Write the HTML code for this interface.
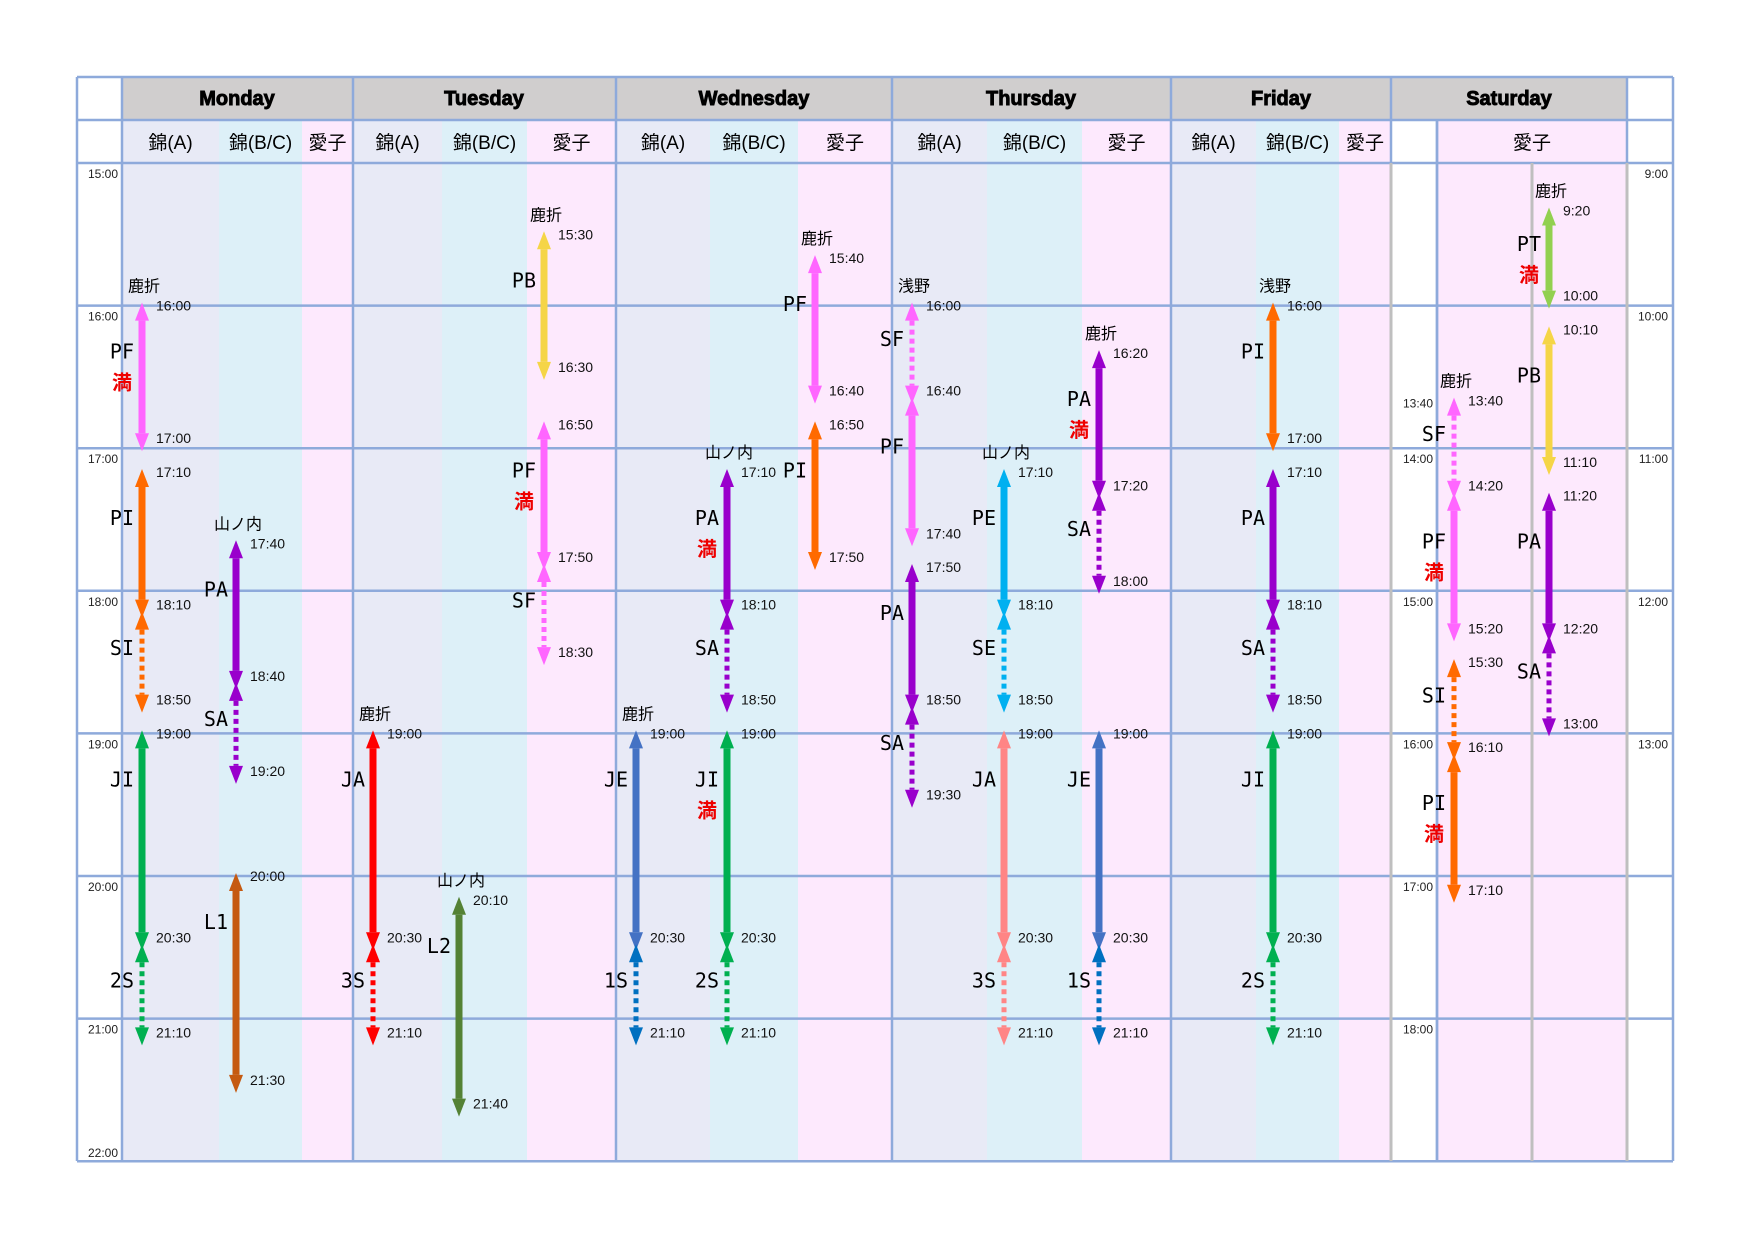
<!DOCTYPE html>
<html><head><meta charset="utf-8">
<style>
html,body{margin:0;padding:0;background:#fff;}
svg{display:block;}
text{font-family:"Liberation Sans","Noto Sans CJK JP",sans-serif;}
.day{font-weight:900;font-size:20px;stroke:#000;stroke-width:0.9px;}
.sub{font-size:19px;}
.ax{font-size:12px;fill:#222;}
.tm{font-size:14px;fill:#111;}
.code{font-family:"DejaVu Sans Mono","Noto Sans CJK JP",monospace;font-size:20px;}
.full{font-size:20px;font-weight:bold;fill:#e00;}
.pl{font-size:16px;}
</style></head>
<body>
<svg id="chart" width="1754" height="1240" viewBox="0 0 1754 1240" xmlns="http://www.w3.org/2000/svg">
<g id="bg"></g><g id="grid"></g><g id="hdr"></g><g id="axis"></g><g id="marks"></g>
</svg>
<script>
// ---- data ----
const days = ["Monday","Tuesday","Wednesday","Thursday","Friday","Saturday"];
const subNames = ["錦(A)","錦(B/C)","愛子"];
const mainTicks = ["15:00","16:00","17:00","18:00","19:00","20:00","21:00","22:00"];
const satLeftTicks = ["13:40","14:00","15:00","16:00","17:00","18:00"];
const satRightTicks = ["9:00","10:00","11:00","12:00","13:00"];
// arrow data: day index, column index, code, color, start, end, dotted, full, place
const arDay   = [0,0,0,0,0,0,0,0, 1,1,1,1,1,1, 2,2,2,2,2,2,2,2, 3,3,3,3,3,3,3,3,3,3,3,3, 4,4,4,4,4, 5,5,5,5, 6,6,6,6];
const arCol   = [0,0,0,1,1,0,0,1, 2,2,2,0,0,1, 2,2,1,1,0,0,1,1, 0,0,0,0,1,1,1,1,2,2,2,2, 1,1,1,1,1, 0,0,0,0, 0,0,0,0];
const arCode  = ["PF","PI","SI","PA","SA","JI","2S","L1", "PB","PF","SF","JA","3S","L2", "PF","PI","PA","SA","JE","1S","JI","2S",
                 "SF","PF","PA","SA","PE","SE","JA","3S","PA","SA","JE","1S", "PI","PA","SA","JI","2S", "SF","PF","SI","PI", "PT","PB","PA","SA"];
const arColor = ["#ff66ff","#ff6a00","#ff6a00","#9900cc","#9900cc","#00b050","#00b050","#c55a11",
                 "#f5d547","#ff66ff","#ff66ff","#ff0000","#ff0000","#548235",
                 "#ff66ff","#ff6a00","#9900cc","#9900cc","#4472c4","#0070c0","#00b050","#00b050",
                 "#ff66ff","#ff66ff","#9900cc","#9900cc","#00b0f0","#00b0f0","#ff8585","#ff8585","#9900cc","#9900cc","#4472c4","#0070c0",
                 "#ff6a00","#9900cc","#9900cc","#00b050","#00b050",
                 "#ff66ff","#ff66ff","#ff6a00","#ff6a00",
                 "#92d050","#f5d547","#9900cc","#9900cc"];
const arStart = ["16:00","17:10","18:10","17:40","18:40","19:00","20:30","20:00", "15:30","16:50","17:50","19:00","20:30","20:10",
                 "15:40","16:50","17:10","18:10","19:00","20:30","19:00","20:30",
                 "16:00","16:40","17:50","18:50","17:10","18:10","19:00","20:30","16:20","17:20","19:00","20:30",
                 "16:00","17:10","18:10","19:00","20:30", "13:40","14:20","15:30","16:10", "9:20","10:10","11:20","12:20"];
const arEnd   = ["17:00","18:10","18:50","18:40","19:20","20:30","21:10","21:30", "16:30","17:50","18:30","20:30","21:10","21:40",
                 "16:40","17:50","18:10","18:50","20:30","21:10","20:30","21:10",
                 "16:40","17:40","18:50","19:30","18:10","18:50","20:30","21:10","17:20","18:00","20:30","21:10",
                 "17:00","18:10","18:50","20:30","21:10", "14:20","15:20","16:10","17:10", "10:00","11:10","12:20","13:00"];
const arDotted= [0,0,1,0,1,0,1,0, 0,0,1,0,1,0, 0,0,0,1,0,1,0,1, 1,0,0,1,0,1,0,1,0,1,0,1, 0,0,1,0,1, 1,0,1,0, 0,0,0,1];
const arFull  = [1,0,0,0,0,0,0,0, 0,1,0,0,0,0, 0,0,1,0,0,0,1,0, 0,0,0,0,0,0,0,0,1,0,0,0, 0,0,0,0,0, 0,1,0,1, 1,0,0,0];
const arPlace = ["鹿折","","","山ノ内","","","","", "鹿折","","","鹿折","","山ノ内", "鹿折","","山ノ内","","鹿折","","","",
                 "浅野","","","","山ノ内","","","","鹿折","","","", "浅野","","","","", "鹿折","","","", "鹿折","","",""];

// ---- layout ----
const NS="http://www.w3.org/2000/svg";
const L=77,R=1673,T=77,B=1161,H1=120,H2=163;
const timeColR=122;
const dayBounds=[[122,219,302,353],[353,442,527,616],[616,710,798,892],[892,987,1082,1171],[1171,1256,1339,1391]];
const HOUR=142.6;
const colLefts=[[122,219,302],[353,442,527],[616,710,798],[892,987,1082],[1171,1256,1339],[1437],[1532]];
const dayOffset=[0,0,0,0,0,3,6];
function hrs(s){const p=s.split(":");return +p[0]+ +p[1]/60;}
function yScale(t,d){return H2+(t+dayOffset[d]-15)*HOUR;}
function xScale(d,c){return colLefts[d][c]+(c===0&&d<5?20:17);}
function el(tag,attrs,parent,txt){const e=document.createElementNS(NS,tag);for(const k in attrs)e.setAttribute(k,attrs[k]);if(txt!==undefined)e.textContent=txt;parent.appendChild(e);return e;}

const bg=document.getElementById('bg'),grid=document.getElementById('grid'),hdr=document.getElementById('hdr'),axis=document.getElementById('axis'),marks=document.getElementById('marks');
const subFill=["#e8eaf6","#ddf0f8","#fde9fd"];
dayBounds.forEach((b,d)=>{
  for(let c=0;c<3;c++){
    const r=el('rect',{x:b[c],y:H1,width:b[c+1]-b[c],height:B-H1,fill:subFill[c]},bg);
    
    
  }
});
{const r=el('rect',{x:1437,y:H1,width:190,height:B-H1,fill:"#fde9fd"},bg);

}
{const r=el('rect',{x:timeColR,y:T,width:1627-timeColR,height:H1-T,fill:"#d0cece"},bg);

}
const gc="#8eaadb";
for(let i=0;i<=7;i++){const y=H2+i*HOUR;el('line',{x1:L,x2:R,y1:y,y2:y,stroke:gc,'stroke-width':2.5},grid);}
[T,H1].forEach(y=>el('line',{x1:L,x2:R,y1:y,y2:y,stroke:gc,'stroke-width':2.5},grid));
[L,timeColR,353,616,892,1171,1391,1437,1627,R].forEach(x=>el('line',{x1:x,x2:x,y1:(x===1437?H1:T),y2:B,stroke:gc,'stroke-width':2.5},grid));
[1391,1532,1627].forEach(x=>el('line',{x1:x,x2:x,y1:H2,y2:B,stroke:"#bfbfbf",'stroke-width':3},grid));
[1437].forEach(x=>el('line',{x1:x,x2:x,y1:H1,y2:B,stroke:gc,'stroke-width':2.5},grid));
const dayCenters=[237,484,754,1031,1281,1509];
days.forEach((n,i)=>{const t=el('text',{x:dayCenters[i],y:105,'text-anchor':'middle',class:'day'},hdr,n);

});
dayBounds.forEach((b,d)=>{for(let c=0;c<3;c++){const cx=(b[c]+b[c+1])/2;const t=el('text',{x:cx,y:149,'text-anchor':'middle',class:'sub'},hdr,subNames[c]);

}});
{const t=el('text',{x:1532,y:149,'text-anchor':'middle',class:'sub'},hdr,subNames[2]);

}
mainTicks.forEach((s,i)=>{const y=H2+i*HOUR;const t=el('text',{x:118,y:(i===7?y-4:y+15),'text-anchor':'end',class:'ax'},axis,s);

});
satLeftTicks.forEach(s=>{const y=yScale(hrs(s),5);const t=el('text',{x:1433,y:y+(s==="13:40"?7:15),'text-anchor':'end',class:'ax'},axis,s);

});
satRightTicks.forEach(s=>{const y=yScale(hrs(s),6);const t=el('text',{x:1668,y:y+15,'text-anchor':'end',class:'ax'},axis,s);

});
for(let i=0;i<arCode.length;i++){
  const d=arDay[i],x=xScale(d,arCol[i]);
  const y1=yScale(hrs(arStart[i]),d),y2=yScale(hrs(arEnd[i]),d);
  const col=arColor[i],hh=15,hw=7;
  const g=el('g',{},marks);
  
  
  const sh={x1:x,x2:x,y1:y1+hh,y2:y2-hh,stroke:col,'stroke-width':arDotted[i]?5:7};
  if(arDotted[i])sh['stroke-dasharray']='5 4';
  el('line',sh,g);
  el('polygon',{points:`${x},${y1-3} ${x-hw},${y1+hh} ${x+hw},${y1+hh}`,fill:col},g);
  el('polygon',{points:`${x},${y2+3} ${x-hw},${y2-hh} ${x+hw},${y2-hh}`,fill:col},g);
  let chained=false;
  for(let j=0;j<i;j++){if(arDay[j]===d&&arCol[j]===arCol[i]&&arEnd[j]===arStart[i])chained=true;}
  if(!chained)el('text',{x:x+14,y:y1+5,class:'tm'},g,arStart[i]);
  el('text',{x:x+14,y:y2-5,class:'tm'},g,arEnd[i]);
  const len=y2-y1,cy=y1+Math.min(46,0.35*len);
  el('text',{x:x-8,y:cy+7,'text-anchor':'end',class:'code'},g,arCode[i]);
  if(arFull[i])el('text',{x:x-10,y:cy+38,'text-anchor':'end',class:'full'},g,'満');
  if(arPlace[i])el('text',{x:x+2,y:y1-14,'text-anchor':'middle',class:'pl'},g,arPlace[i]);
}
</script>
</body></html>
